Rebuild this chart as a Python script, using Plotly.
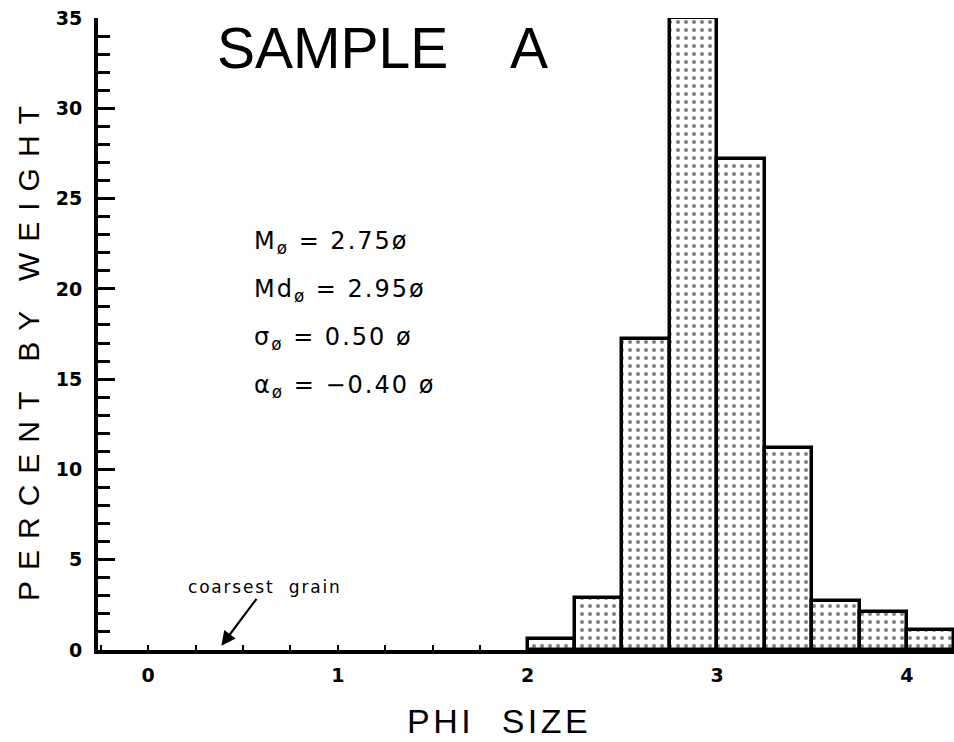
import plotly.graph_objects as go

# Data
bin_left = [2.0, 2.25, 2.5, 2.75, 3.0, 3.25, 3.5, 3.75, 4.0]
percent = [0.6, 2.9, 17.2, 35.0, 27.2, 11.2, 2.7, 2.1, 1.1]
bin_width = 0.25
x_ticks = [0, 1, 2, 3, 4]
y_ticks = [0, 5, 10, 15, 20, 25, 30, 35]
stats = [
    "M<sub>ø</sub> = 2.75ø",
    "Md<sub>ø</sub> = 2.95ø",
    "σ<sub>ø</sub> = 0.50 ø",
    "α<sub>ø</sub> = −0.40 ø",
]

FONT = "Liberation Sans, Arial, sans-serif"
FONT2 = "DejaVu Sans, sans-serif"
W, H = 954, 742
L, R, T, B = 98, 0, 18, 92


def px(xp):
    return (xp - L) / (W - L - R)


def py(yp):
    return (H - B - yp) / (H - B - T)


def spaced(text, ls, size):
    return '<span style="letter-spacing:%gpx;font-size:%gpx">%s</span>' % (ls, size, text)


fig = go.Figure()
fig.add_trace(go.Bar(
    x=bin_left,
    y=percent,
    width=bin_width,
    offset=0,
    marker=dict(
        color="white",
        line=dict(color="black", width=3.5),
        pattern=dict(shape=".", fgcolor="black", bgcolor="white", size=8, solidity=0.2),
    ),
    showlegend=False,
))

fig.update_layout(
    width=W, height=H,
    margin=dict(l=L, r=R, t=T, b=B),
    paper_bgcolor="white", plot_bgcolor="white",
    font=dict(family=FONT, color="black", size=20),
    bargap=0,
)

fig.update_xaxes(
    range=[-0.264, 4.248],
    tickvals=x_ticks, ticktext=[str(v) for v in x_ticks],
    ticks="inside", ticklen=5, tickwidth=2, tickcolor="black",
    minor=dict(dtick=0.25, tick0=0, ticks="inside", ticklen=5, tickwidth=2, tickcolor="black"),
    showline=True, linewidth=4, linecolor="black",
    showgrid=False, zeroline=False,
    tickfont=dict(size=19, family=FONT2, color="black", weight="bold"),
    ticklabelstandoff=5,
)
fig.update_yaxes(
    range=[0, 35],
    tickvals=y_ticks, ticktext=[str(v) for v in y_ticks],
    ticks="inside", ticklen=17, tickwidth=3, tickcolor="black",
    minor=dict(dtick=1, tick0=0, ticks="inside", ticklen=12, tickwidth=2.5, tickcolor="black"),
    showline=True, linewidth=4, linecolor="black",
    showgrid=False, zeroline=False,
    tickfont=dict(size=19, family=FONT2, color="black", weight="bold"),
    ticklabelstandoff=8,
)

annotations = []
# Title
annotations.append(dict(
    text='SAMPLE<span style="letter-spacing:46px;font-size:57px"> </span>A',
    xref="paper", yref="paper", x=px(215), y=py(48),
    xanchor="left", yanchor="middle", showarrow=False,
    font=dict(size=57, family=FONT, color="black"),
))
# Axis titles
annotations.append(dict(
    text=spaced("PERCENT BY WEIGHT", 11, 30),
    xref="paper", yref="paper", x=px(28), y=py(348),
    xanchor="center", yanchor="middle", textangle=-90, showarrow=False,
    font=dict(size=30, family=FONT, color="black"),
))
annotations.append(dict(
    text='<span style="letter-spacing:3.5px;font-size:34px">PHI<span style="letter-spacing:18px;font-size:34px"> </span>SIZE</span>',
    xref="paper", yref="paper", x=px(499), y=py(721),
    xanchor="center", yanchor="middle", showarrow=False,
    font=dict(size=34, family=FONT, color="black"),
))
# Statistics block
stat_y = [242, 290, 338, 386]
for txt, yy in zip(stats, stat_y):
    annotations.append(dict(
        text=spaced(txt, 2, 24),
        xref="paper", yref="paper", x=px(252), y=py(yy),
        xanchor="left", yanchor="middle", showarrow=False,
        font=dict(size=24, family=FONT2, color="black"),
    ))
# Coarsest grain pointer
annotations.append(dict(
    text=spaced("coarsest  grain", 1.8, 17),
    xref="x", yref="y", x=0.38, y=0.15,
    ax=45, ay=-60, axref="pixel", ayref="pixel",
    showarrow=True, arrowhead=2, arrowsize=1.3, arrowwidth=2.2, arrowcolor="black",
    standoff=2,
    font=dict(size=17, family=FONT2, color="black"),
))
fig.update_layout(annotations=annotations)

fig.write_html("out.html")
